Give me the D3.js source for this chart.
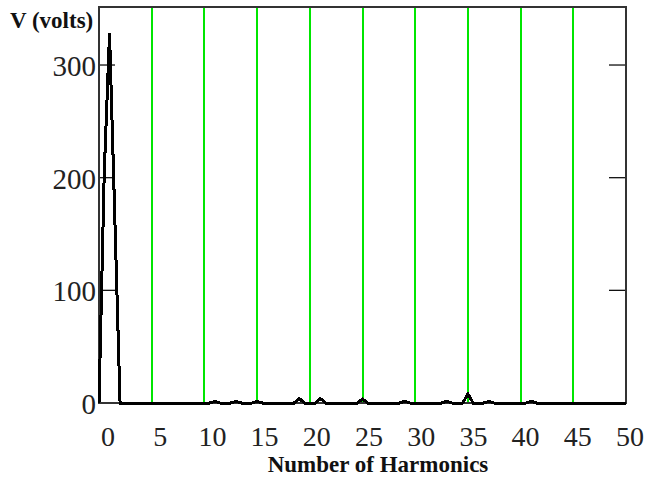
<!DOCTYPE html>
<html>
<head>
<meta charset="utf-8">
<script src="https://cdn.jsdelivr.net/npm/d3@7"></script>
<style>
  html, body { margin: 0; padding: 0; background: #fff; }
  svg { display: block; }
</style>
</head>
<body>
<svg id="chart" width="650" height="477"></svg>
<script>
// ---- data ----
const harmonics = [0, 0.5, 1, 1.5, 2,
  10.5, 11, 11.5, 12.5, 13, 13.5, 14.5, 15, 15.5,
  18.5, 19, 19.5, 20.5, 21, 21.5, 24.5, 25, 25.5,
  28.5, 29, 29.5, 32.5, 33, 33.5, 34.5, 35, 35.5,
  36.5, 37, 37.5, 40.5, 41, 41.5, 50];
const volts = [0, 205, 328, 165, 0,
  0, 1.5, 0, 0, 1.5, 0, 0, 1.5, 0,
  0, 4, 0, 0, 4, 0, 0, 3.5, 0,
  0, 1.5, 0, 0, 1.5, 0, 0, 8, 0,
  0, 1.5, 0, 0, 1.5, 0, 0];
const xTicks = [0, 5, 10, 15, 20, 25, 30, 35, 40, 45, 50];
const yTicks = [0, 100, 200, 300];
const markerLines = [5, 10, 15, 20, 25, 30, 35, 40, 45];
const xTitle = "Number of Harmonics";
const yTitle = "V (volts)";

// ---- layout ----
const svg = d3.select("#chart");
const pL = 99, pR = 626, pT = 7, pB = 403;
const x = d3.scaleLinear().domain([0, 50]).range([pL, pR]);
const y = d3.scaleLinear().domain([0, 351.5]).range([pB, pT]);
const xLab = d3.scaleLinear().domain([0, 50]).range([pL + 9, pR + 4]);

// green vertical marker lines
svg.append("g").selectAll("line").data(markerLines).join("line")
  .attr("x1", d => Math.round(x(d))).attr("x2", d => Math.round(x(d)))
  .attr("y1", pT).attr("y2", pB)
  .attr("stroke", "#00e600").attr("stroke-width", 2);

// y ticks (inside, both sides)
const tg = svg.append("g").attr("stroke", "#111").attr("stroke-width", 1.3);
tg.selectAll(".tl").data(yTicks.filter(d => d > 0)).join("line").attr("class", "tl")
  .attr("x1", pL).attr("x2", pL + 16)
  .attr("y1", d => y(d)).attr("y2", d => y(d));
tg.selectAll(".tr").data(yTicks.filter(d => d > 0)).join("line").attr("class", "tr")
  .attr("x1", pR - 17).attr("x2", pR)
  .attr("y1", d => y(d)).attr("y2", d => y(d));

// frame
svg.append("rect")
  .attr("x", pL).attr("y", pT)
  .attr("width", pR - pL).attr("height", pB - pT)
  .attr("fill", "none").attr("stroke", "#333").attr("stroke-width", 2);

// data trace
const line = d3.line().x((d, i) => x(harmonics[i])).y(d => y(d));
svg.append("path")
  .attr("d", line(volts))
  .attr("fill", "none").attr("stroke", "#000").attr("stroke-width", 3)
  .attr("stroke-linejoin", "miter")
  .attr("shape-rendering", "crispEdges");

// tick labels
const serif = "'Liberation Serif', 'Times New Roman', serif";
svg.append("g").selectAll("text").data(yTicks).join("text")
  .attr("x", pL - 3).attr("y", d => y(d) + 1)
  .attr("text-anchor", "end").attr("dominant-baseline", "central")
  .attr("font-family", serif).attr("font-size", 29).attr("fill", "#222")
  .text(d => d);
svg.append("g").selectAll("text").data(xTicks).join("text")
  .attr("x", d => xLab(d)).attr("y", 436)
  .attr("text-anchor", "middle").attr("dominant-baseline", "central")
  .attr("font-family", serif).attr("font-size", 28).attr("fill", "#222")
  .text(d => d);

// titles
svg.append("text").attr("x", 10).attr("y", 28)
  .attr("font-family", serif).attr("font-weight", "bold").attr("font-size", 23)
  .attr("fill", "#111").text(yTitle);
svg.append("text").attr("x", 378).attr("y", 472).attr("text-anchor", "middle")
  .attr("font-family", serif).attr("font-weight", "bold").attr("font-size", 23)
  .attr("fill", "#111").text(xTitle);
</script>
</body>
</html>
